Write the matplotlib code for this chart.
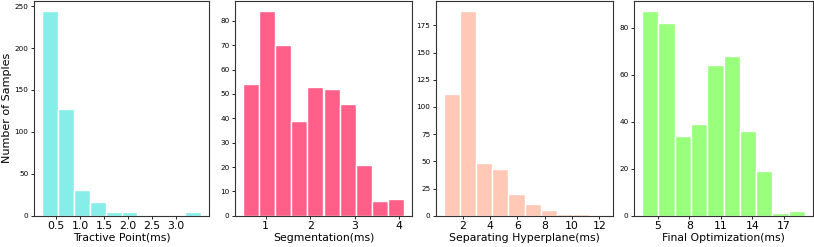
import numpy as np
import matplotlib
matplotlib.use('Agg')
import matplotlib.pyplot as plt

# bin edges (ms) and counts
tp_edges = np.linspace(0.205, 3.52, 11)
tp_counts = [244, 127, 31, 16, 4, 4, 0, 0, 0, 4]

seg_edges = np.linspace(0.49, 4.11, 11)
seg_counts = [54, 84, 70, 39, 53, 52, 46, 21, 6, 7]

sh_edges = np.linspace(0.61, 12.42, 11)
sh_counts = [112, 188, 48, 43, 20, 11, 5, 2, 2, 1]

fo_edges = np.linspace(3.48, 19.03, 11)
fo_counts = [87, 82, 34, 39, 64, 68, 36, 19, 1, 2]

xlabels = ['Tractive Point(ms)', 'Segmentation(ms)',
           'Separating Hyperplane(ms)', 'Final Optimization(ms)']
colors = ['#86EEE9', '#FF5F89', '#FFC9B5', '#99FF7D']
xticks = [[0.5, 1.0, 1.5, 2.0, 2.5, 3.0], [1, 2, 3, 4],
          [2, 4, 6, 8, 10, 12], [5, 8, 11, 14, 17]]
xticklabels = [['0.5', '1.0', '1.5', '2.0', '2.5', '3.0'],
               ['1', '2', '3', '4'],
               ['2', '4', '6', '8', '10', '12'],
               ['5', '8', '11', '14', '17']]
yticks = [[0, 50, 100, 150, 200, 250],
          [0, 10, 20, 30, 40, 50, 60, 70, 80],
          [0, 25, 50, 75, 100, 125, 150, 175],
          [0, 20, 40, 60, 80]]

data = [(tp_edges, tp_counts), (seg_edges, seg_counts),
        (sh_edges, sh_counts), (fo_edges, fo_counts)]

W, H = 814, 247
fig = plt.figure(figsize=(W / 100, H / 100), dpi=100)

# axes boxes in pixels: left, right
boxes = [(34, 209), (235, 412), (436, 613), (634, 813)]
top, bottom = 1, 215.7

for i, ((edges, counts), (l, r)) in enumerate(zip(data, boxes)):
    ax = fig.add_axes([l / W, 1 - bottom / H, (r - l) / W, (bottom - top) / H])
    ax.bar(edges[:-1], counts, width=np.diff(edges), align='edge',
           color=colors[i], edgecolor='white', linewidth=1.0)
    ax.set_xticks(xticks[i])
    ax.set_xticklabels(xticklabels[i])
    ax.set_yticks(yticks[i])
    ax.tick_params(axis='x', labelsize=7.8, length=2.5, width=0.6, pad=1.5)
    ax.tick_params(axis='y', labelsize=5.2, length=2.5, width=0.6, pad=1.5)
    ax.set_xlabel(xlabels[i], fontsize=7.8, labelpad=1)
    for s in ax.spines.values():
        s.set_linewidth(0.8)
        s.set_color('#333333')
    if i == 0:
        ax.set_ylabel('Number of Samples', fontsize=8, labelpad=2)

fig.savefig('out.png', dpi=100)
